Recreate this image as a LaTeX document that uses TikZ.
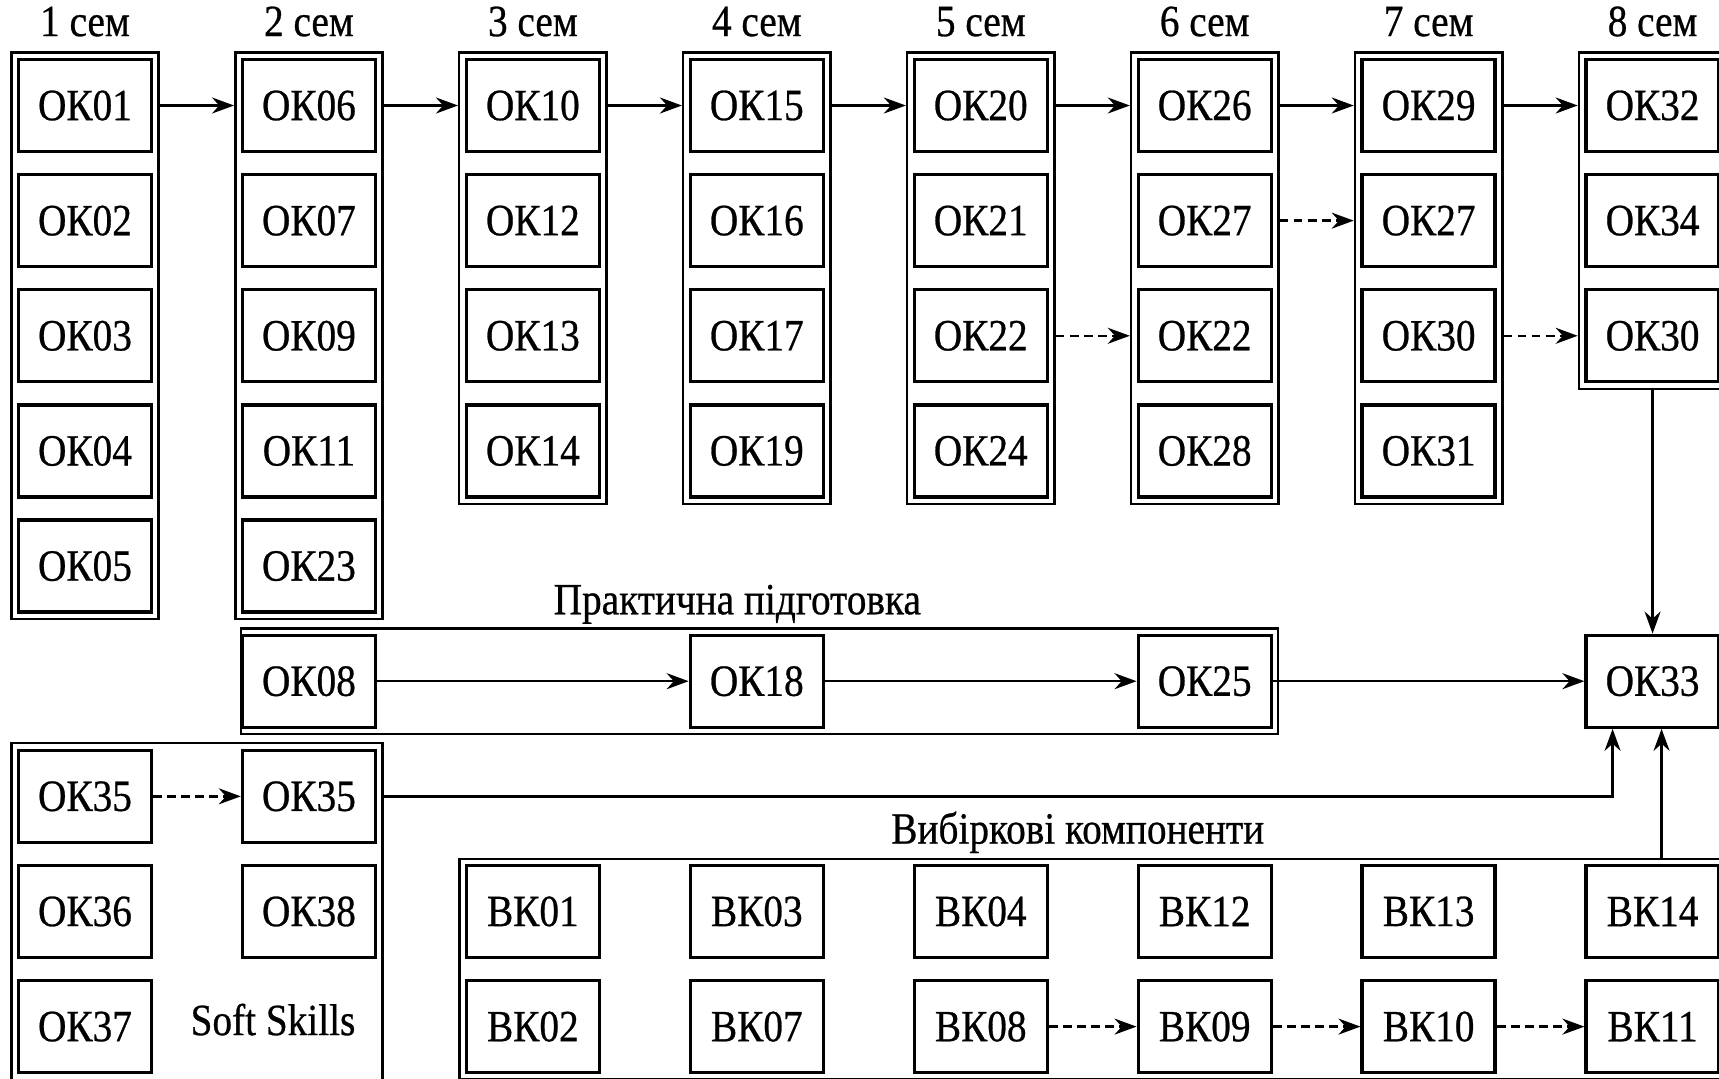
\documentclass[tikz,border=0pt]{standalone}
\usepackage{fontspec}
\setmainfont{Liberation Serif}[FakeStretch=0.88, FakeBold=0.6]
\usepackage{tikz}
\usetikzlibrary{arrows.meta, fit, positioning, calc}
\newcommand{\boxf}{\fontsize{12.7}{14}\selectfont}
\tikzset{
  box/.style={draw, line width=0.95pt, minimum width=1.33cm, minimum height=0.92cm,
    inner sep=0pt, font=\boxf},
  frm/.style={draw, line width=0.7pt, inner sep=0.055cm},
  lbl/.style={inner sep=0pt, font=\boxf},
  A/.style={-{Stealth[length=2.2mm,width=1.6mm]}, line width=0.7pt},
  Ad/.style={A, dash pattern=on 2.5pt off 1.5pt},
}

\begin{document}
\begin{tikzpicture}[node distance=0.198cm and 0.876cm]
\useasboundingbox (0,0) rectangle (17.19,-10.79);
\clip (0,0) rectangle (17.19,-10.79);

% ── semesters 1-8 ───────────────────────────────────────────────────────────
\node[box] (ok01) at (0.85,-1.055) {ОК01};
\node[box, below=of ok01] (ok02) {ОК02};
\node[box, below=of ok02] (ok03) {ОК03};
\node[box, below=of ok03] (ok04) {ОК04};
\node[box, below=of ok04] (ok05) {ОК05};

\node[box, right=of ok01] (ok06) {ОК06};
\node[box, below=of ok06] (ok07) {ОК07};
\node[box, below=of ok07] (ok09) {ОК09};
\node[box, below=of ok09] (ok11) {ОК11};
\node[box, below=of ok11] (ok23) {ОК23};

\node[box, right=of ok06] (ok10) {ОК10};
\node[box, below=of ok10] (ok12) {ОК12};
\node[box, below=of ok12] (ok13) {ОК13};
\node[box, below=of ok13] (ok14) {ОК14};

\node[box, right=of ok10] (ok15) {ОК15};
\node[box, below=of ok15] (ok16) {ОК16};
\node[box, below=of ok16] (ok17) {ОК17};
\node[box, below=of ok17] (ok19) {ОК19};

\node[box, right=of ok15] (ok20) {ОК20};
\node[box, below=of ok20] (ok21) {ОК21};
\node[box, below=of ok21] (ok22) {ОК22};
\node[box, below=of ok22] (ok24) {ОК24};

\node[box, right=of ok20] (ok26) {ОК26};
\node[box, below=of ok26] (ok27) {ОК27};
\node[box, below=of ok27] (ok22b) {ОК22};
\node[box, below=of ok22b] (ok28) {ОК28};

\node[box, right=of ok26] (ok29) {ОК29};
\node[box, below=of ok29] (ok27b) {ОК27};
\node[box, below=of ok27b] (ok30) {ОК30};
\node[box, below=of ok30] (ok31) {ОК31};

\node[box, right=of ok29] (ok32) {ОК32};
\node[box, below=of ok32] (ok34) {ОК34};
\node[box, below=of ok34] (ok30b) {ОК30};

\node[frm, fit=(ok01)(ok05)] (c1) {};
\node[frm, fit=(ok06)(ok23)] (c2) {};
\node[frm, fit=(ok10)(ok14)] (c3) {};
\node[frm, fit=(ok15)(ok19)] (c4) {};
\node[frm, fit=(ok20)(ok24)] (c5) {};
\node[frm, fit=(ok26)(ok28)] (c6) {};
\node[frm, fit=(ok29)(ok31)] (c7) {};
\node[frm, fit=(ok32)(ok30b)] (c8) {};

\node[lbl, anchor=base] at ($(c1.north)+(0,0.15)$) {1 сем};
\node[lbl, anchor=base] at ($(c2.north)+(0,0.15)$) {2 сем};
\node[lbl, anchor=base] at ($(c3.north)+(0,0.15)$) {3 сем};
\node[lbl, anchor=base] at ($(c4.north)+(0,0.15)$) {4 сем};
\node[lbl, anchor=base] at ($(c5.north)+(0,0.15)$) {5 сем};
\node[lbl, anchor=base] at ($(c6.north)+(0,0.15)$) {6 сем};
\node[lbl, anchor=base] at ($(c7.north)+(0,0.15)$) {7 сем};
\node[lbl, anchor=base] at ($(c8.north)+(0,0.15)$) {8 сем};

\draw[A] (c1.east |- ok01) -- (c2.west |- ok06);
\draw[A] (c2.east |- ok06) -- (c3.west |- ok10);
\draw[A] (c3.east |- ok10) -- (c4.west |- ok15);
\draw[A] (c4.east |- ok15) -- (c5.west |- ok20);
\draw[A] (c5.east |- ok20) -- (c6.west |- ok26);
\draw[A] (c6.east |- ok26) -- (c7.west |- ok29);
\draw[A] (c7.east |- ok29) -- (c8.west |- ok32);
\draw[Ad] (c5.east |- ok22) -- (c6.west |- ok22b);
\draw[Ad] (c6.east |- ok27) -- (c7.west |- ok27b);
\draw[Ad] (c7.east |- ok30) -- (c8.west |- ok30b);

% ── practical training ──────────────────────────────────────────────────────
\node[box, below=of ok23] (ok08) {ОК08};
\node[box] (ok18) at (ok08 -| ok19) {ОК18};
\node[box] (ok25) at (ok08 -| ok28) {ОК25};
\node[box] (ok33) at (ok08 -| ok30b) {ОК33};
\coordinate (p0) at ($(ok08.west)+(0.05,0)$);
\node[frm, inner sep=0.05cm, fit=(p0)(ok08.north)(ok08.south)(ok25)] (prac) {};
\node[lbl, anchor=base] at ($(prac.north)+(-0.22,0.13)$) {Практична підготовка};

\draw[A] (ok08) -- (ok18);
\draw[A] (ok18) -- (ok25);
\draw[A] (ok25) -- (ok33);
\draw[A] (c8.south) -- (ok33.north);

% ── soft skills ─────────────────────────────────────────────────────────────
\node[box, below=of ok08] (ok35b) {ОК35};
\node[box] (ok35) at (ok01 |- ok35b) {ОК35};
\node[box, below=of ok35b] (ok38) {ОК38};
\node[box] (ok36) at (ok01 |- ok38) {ОК36};
\node[box, below=of ok36] (ok37) {ОК37};
\node[lbl] at ($(ok37)+(1.88,0.07)$) {Soft Skills};
\node[frm, fit=(ok35)(ok38)(ok37)] (soft) {};

\draw[Ad] (ok35) -- (ok35b);
\draw[A] (soft.east |- ok35b) -| ($(ok33.south)+(-0.4,0)$);

% ── elective components ─────────────────────────────────────────────────────
\node[box] (vk01) at (ok10 |- ok38) {ВК01};
\node[box] (vk03) at (ok15 |- ok38) {ВК03};
\node[box] (vk04) at (ok20 |- ok38) {ВК04};
\node[box] (vk12) at (ok26 |- ok38) {ВК12};
\node[box] (vk13) at (ok29 |- ok38) {ВК13};
\node[box] (vk14) at (ok32 |- ok38) {ВК14};
\node[box, below=of vk01] (vk02) {ВК02};
\node[box, below=of vk03] (vk07) {ВК07};
\node[box, below=of vk04] (vk08) {ВК08};
\node[box, below=of vk12] (vk09) {ВК09};
\node[box, below=of vk13] (vk10) {ВК10};
\node[box, below=of vk14] (vk11) {ВК11};
\node[frm, inner sep=0.05cm, fit=(vk01)(vk11)] (vk) {};
\node[lbl, anchor=base] at ($(vk.north)+(-0.15,0.14)$) {Вибіркові компоненти};

\draw[Ad] (vk08) -- (vk09);
\draw[Ad] (vk09) -- (vk10);
\draw[Ad] (vk10) -- (vk11);
\coordinate (up) at ($(ok33.south)+(0.09,0)$);
\draw[A] (vk.north -| up) -- (up);

\end{tikzpicture}
\end{document}
